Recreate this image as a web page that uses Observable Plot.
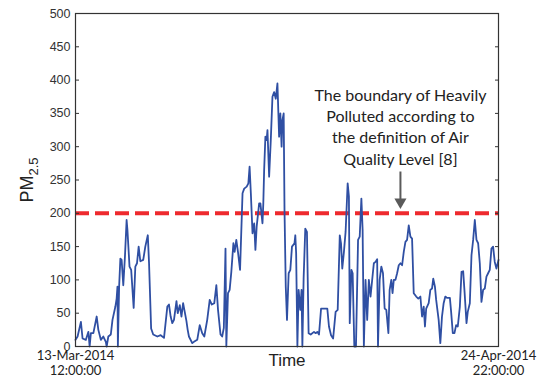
<!DOCTYPE html>
<html><head><meta charset="utf-8">
<script src="https://cdn.jsdelivr.net/npm/d3@7"></script>
<script src="https://cdn.jsdelivr.net/npm/@observablehq/plot@0.6"></script>
<style>body{margin:0;background:#fff}</style>
</head><body><div id="chart"></div>
<script>
// hours since 13-Mar-2014 12:00:00
const hours = [0,5,13,17,25,31,34,37,43,51,55,61,67,73,75,79,85,89,96,99,101,102,105,108,111,115,119,123,125,130,134,140,144,148,152,156,163,168,174,177,182,187,197,205,213,221,225,229,233,237,243,246,251,255,259,262,267,270,273,281,285,293,299,305,310,317,323,328,334,339,343,349,353,357,361,363,367,371,375,380,383,387,391,396,402,406,412,416,419,422,426,430,433,436,442,445,450,452,454,457,460,462,466,470,474,478,482,486,490,493,496,498,501,503,506,509,513,517,521,527,529,531,534,537,541,544,546,549,553,557,561,566,574,578,582,586,591,602,606,610,615,620,626,631,636,639,642,646,650,655,658,660,664,667,671,675,680,684,688,691,694,698,702,706,710,714,718,722,726,728,732,736,740,744,748,753,756,760,763,766,770,774,778,782,786,790,794,798,802,806,810,814,820,825,830,834,838,841,844,850,854,858,861,865,868,870,874,878,882,886,890,894,901,904,908,912,916,920,925,929,933,936,941,944,949,953,957,961,965,969,973,977,981,985,989,993,997,1001,1005,1009,1013,1018];
const pm = [10,15,37,12,10,22,0,20,20,45,25,10,15,7,0,15,18,40,60,72,90,0,90,132,130,92,135,190,175,120,115,58,120,125,150,128,130,150,167,125,27,18,15,17,13,60,63,45,35,40,68,50,62,45,65,55,38,25,15,5,7,10,32,20,15,40,70,63,65,92,55,18,15,28,147,0,80,85,112,155,142,160,142,115,230,237,240,245,270,230,170,185,145,180,215,215,185,215,265,315,310,325,255,310,375,382,372,395,315,350,300,340,350,205,90,40,110,115,150,155,167,140,0,85,55,85,0,102,177,172,20,18,22,20,22,18,57,57,57,30,17,12,52,55,167,155,117,142,172,245,225,35,115,110,0,0,160,165,222,175,0,100,40,100,75,100,125,127,131,0,100,120,110,57,55,20,85,100,80,100,100,110,122,125,122,142,157,160,182,165,162,80,75,72,75,45,60,30,57,65,85,87,102,90,70,60,40,5,45,65,75,73,73,52,20,20,32,30,60,112,113,85,35,52,65,137,160,190,160,155,125,67,85,87,105,110,115,147,150,127,117,130];
const yTicks = [0,50,100,150,200,250,300,350,400,450,500];
const xTickLabels = ["13-Mar-2014\n12:00:00", "24-Apr-2014\n22:00:00"];
const totalHours = 1018;
const threshold = 200;
const annotation = "The boundary of Heavily\nPolluted according to\nthe definition of Air\nQuality Level [8]";
const annotHour = 782, annotValue = 331;
const arrowHour = 782, arrowFrom = 262, arrowTo = 214, arrowHeadValue = 217;

const H = 3600e3;
const start = Date.UTC(2014, 2, 13, 12);
const toDate = h => new Date(start + h * H);
const data = hours.map((h, i) => ({t: toDate(h), v: pm[i]}));
const xTicks = [toDate(0), toDate(totalHours)];

const plot = Plot.plot({
  width: 538, height: 377,
  marginLeft: 75, marginRight: 40, marginTop: 13, marginBottom: 31,
  style: {fontFamily: "'Liberation Sans', Arial, sans-serif", fontSize: "12.5px", color: "#333", background: "#fff"},
  x: {type: "utc", domain: xTicks},
  y: {domain: [0, 500]},
  marks: [
    Plot.ruleY([threshold], {stroke: "#ee2a2e", strokeWidth: 4, strokeDasharray: "14,6"}),
    Plot.line(data, {x: "t", y: "v", stroke: "#2f4fa3", strokeWidth: 1.8}),
    Plot.frame({stroke: "#333", strokeWidth: 1.2}),
    Plot.axisY({ticks: yTicks, tickSize: -4, tickPadding: 9, label: null, stroke: "#333"}),
    Plot.axisY({anchor: "right", ticks: yTicks, tickSize: -4, tickFormat: () => "", label: null, stroke: "#333"}),
    Plot.axisX({ticks: xTicks, tickSize: 0, tickPadding: 2, tickFormat: (d, i) => xTickLabels[i],
      label: null, fontFamily: "Lato, sans-serif", fontSize: 13, lineHeight: 1.2, fill: "#222"}),
    Plot.text(["Time"], {frameAnchor: "bottom", dy: 19, fontSize: 17, fill: "#222"}),
    Plot.ruleX([toDate(arrowHour)], {y1: arrowFrom, y2: arrowTo, stroke: "#5a5a5a", strokeWidth: 2}),
    Plot.dot([0], {x: () => toDate(arrowHour), y: () => arrowHeadValue, symbol: "triangle", rotate: 180, r: 4.5, fill: "#5a5a5a", stroke: null}),
    Plot.text([annotation], {x: () => toDate(annotHour), y: () => annotValue, fontFamily: "Lato, sans-serif", fontSize: 16, lineHeight: 1.33, fill: "#222"})
  ]
});

const svg = d3.select(plot);
const lab = svg.append("text")
  .attr("transform", "translate(33,180) rotate(-90)")
  .attr("text-anchor", "middle")
  .attr("font-family", "'Liberation Sans', Arial, sans-serif")
  .attr("fill", "#222");
lab.append("tspan").attr("font-size", 18).text("PM");
lab.append("tspan").attr("font-size", 13).attr("dy", 5).text("2.5");

document.getElementById("chart").append(plot);
</script>
</body></html>
